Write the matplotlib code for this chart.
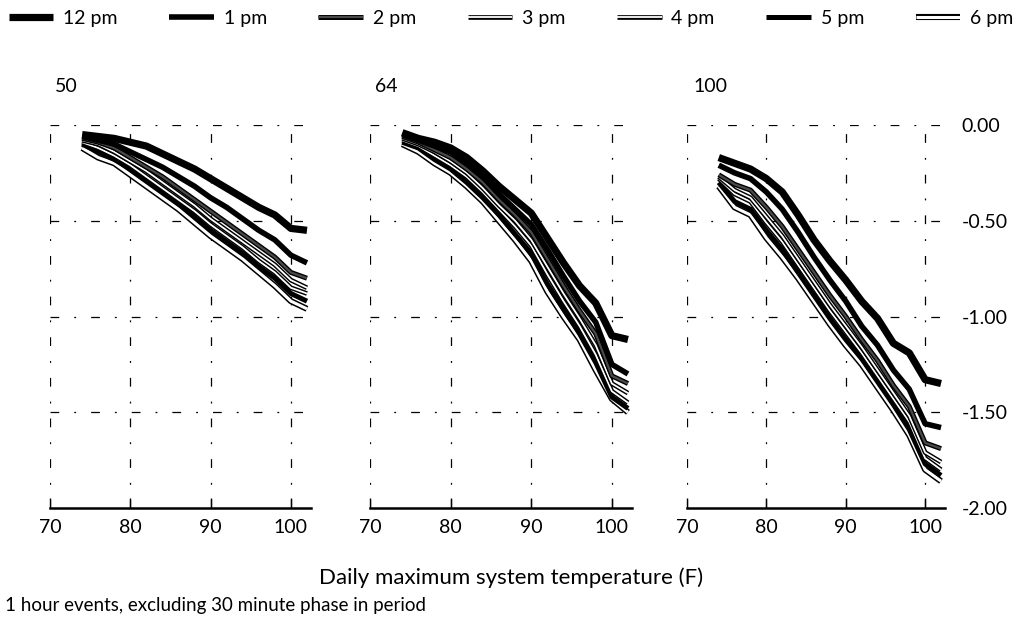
import matplotlib
matplotlib.use("Agg")
import matplotlib.pyplot as plt
import matplotlib.patheffects as pe

plt.rcParams['font.family'] = ['Lato', 'DejaVu Sans']

temps = [74, 76, 78, 80, 82, 84, 86, 88, 90, 92, 94, 96, 98, 100, 102]
hours = ["12 pm", "1 pm", "2 pm", "3 pm", "4 pm", "5 pm", "6 pm"]
panel_titles = ["50", "64", "100"]
x_ticks = [70, 80, 90, 100]
y_ticks = [0.0, -0.5, -1.0, -1.5, -2.0]
y_tick_labels = ["0.00", "-0.50", "-1.00", "-1.50", "-2.00"]

p50 = {
    "12 pm": [-0.05, -0.06, -0.07, -0.09, -0.11, -0.15, -0.19, -0.23, -0.28, -0.33, -0.38, -0.43, -0.47, -0.54, -0.55],
    "1 pm": [-0.06, -0.08, -0.10, -0.14, -0.18, -0.22, -0.27, -0.32, -0.38, -0.43, -0.49, -0.55, -0.60, -0.68, -0.72],
    "2 pm": [-0.07, -0.09, -0.12, -0.17, -0.22, -0.27, -0.33, -0.39, -0.45, -0.51, -0.57, -0.63, -0.69, -0.77, -0.80],
    "3 pm": [-0.08, -0.10, -0.14, -0.19, -0.24, -0.30, -0.36, -0.42, -0.49, -0.55, -0.61, -0.67, -0.73, -0.81, -0.85],
    "4 pm": [-0.09, -0.12, -0.16, -0.21, -0.27, -0.33, -0.39, -0.45, -0.52, -0.58, -0.64, -0.71, -0.77, -0.85, -0.88],
    "5 pm": [-0.10, -0.14, -0.18, -0.23, -0.29, -0.35, -0.41, -0.48, -0.55, -0.61, -0.67, -0.74, -0.80, -0.88, -0.92],
    "6 pm": [-0.12, -0.17, -0.20, -0.26, -0.32, -0.38, -0.44, -0.51, -0.58, -0.64, -0.70, -0.77, -0.84, -0.92, -0.96],
}
p64 = {
    "12 pm": [-0.04, -0.07, -0.09, -0.12, -0.17, -0.24, -0.32, -0.39, -0.46, -0.59, -0.72, -0.84, -0.93, -1.10, -1.12],
    "1 pm": [-0.05, -0.08, -0.11, -0.14, -0.20, -0.27, -0.36, -0.44, -0.52, -0.65, -0.79, -0.92, -1.03, -1.25, -1.30],
    "2 pm": [-0.06, -0.09, -0.13, -0.17, -0.23, -0.30, -0.39, -0.47, -0.56, -0.70, -0.84, -0.97, -1.09, -1.31, -1.35],
    "3 pm": [-0.07, -0.10, -0.14, -0.19, -0.25, -0.33, -0.42, -0.50, -0.60, -0.74, -0.88, -1.01, -1.15, -1.35, -1.40],
    "4 pm": [-0.08, -0.11, -0.16, -0.21, -0.27, -0.35, -0.44, -0.53, -0.63, -0.78, -0.92, -1.05, -1.20, -1.39, -1.45],
    "5 pm": [-0.09, -0.12, -0.18, -0.23, -0.30, -0.38, -0.47, -0.57, -0.67, -0.83, -0.96, -1.09, -1.24, -1.42, -1.48],
    "6 pm": [-0.10, -0.14, -0.20, -0.25, -0.32, -0.40, -0.50, -0.60, -0.71, -0.87, -1.00, -1.12, -1.28, -1.43, -1.50],
}
p100 = {
    "12 pm": [-0.17, -0.20, -0.23, -0.28, -0.35, -0.47, -0.60, -0.71, -0.81, -0.92, -1.01, -1.14, -1.19, -1.33, -1.35],
    "1 pm": [-0.21, -0.25, -0.28, -0.35, -0.44, -0.56, -0.69, -0.81, -0.92, -1.05, -1.15, -1.28, -1.38, -1.56, -1.58],
    "2 pm": [-0.26, -0.31, -0.34, -0.43, -0.53, -0.65, -0.77, -0.89, -1.00, -1.12, -1.23, -1.36, -1.47, -1.66, -1.69],
    "3 pm": [-0.27, -0.34, -0.38, -0.48, -0.58, -0.70, -0.82, -0.94, -1.05, -1.16, -1.28, -1.40, -1.52, -1.71, -1.76],
    "4 pm": [-0.28, -0.36, -0.40, -0.51, -0.61, -0.73, -0.85, -0.97, -1.08, -1.19, -1.31, -1.43, -1.55, -1.74, -1.80],
    "5 pm": [-0.30, -0.40, -0.44, -0.55, -0.65, -0.77, -0.89, -1.01, -1.12, -1.22, -1.34, -1.46, -1.59, -1.77, -1.83],
    "6 pm": [-0.32, -0.43, -0.47, -0.59, -0.69, -0.80, -0.92, -1.04, -1.15, -1.25, -1.37, -1.49, -1.62, -1.80, -1.86],
}
panels = [p50, p64, p100]

# style per hour: (inner color, inner width, outer width or None)
styles = {
    "12 pm": ("black", 5.2, None),
    "1 pm": ("black", 4.0, None),
    "2 pm": ("#4a4a4a", 1.6, 3.6),
    "3 pm": ("white", 1.3, 3.4),
    "4 pm": ("white", 1.3, 3.4),
    "5 pm": ("black", 3.6, None),
    "6 pm": ("white", 2.2, 4.4),
}

fig = plt.figure(figsize=(10.22, 6.30), dpi=100)
lefts = [50 / 1022, 370 / 1022, 687 / 1022]
widths = [261 / 1022, 262 / 1022, 258 / 1022]
bottom = 1 - 508 / 630
height = 383 / 630

grid_ls = (0, (7, 12, 1.5, 12))
handles = []
for i, data in enumerate(panels):
    ax = fig.add_axes([lefts[i], bottom, widths[i], height])
    ax.set_xlim(70, 102.5)
    ax.set_ylim(-2.0, 0.0)
    for xv in x_ticks:
        ax.axvline(xv, color="black", lw=0.9, ls=grid_ls, zorder=1)
    for yv in y_ticks[:-1]:
        ax.axhline(yv, color="black", lw=0.9, ls=grid_ls, zorder=1)
    for k, h in enumerate(hours):
        col, w, ow = styles[h]
        kw = {}
        if ow is not None:
            kw["path_effects"] = [pe.Stroke(linewidth=ow, foreground="black"), pe.Normal()]
        ln, = ax.plot(temps, data[h], color=col, lw=w, solid_capstyle="butt",
                      solid_joinstyle="round", zorder=10 - k, clip_on=False, label=h, **kw)
        if i == 0:
            handles.append(ln)
    for s in ["top", "left", "right"]:
        ax.spines[s].set_visible(False)
    ax.spines["bottom"].set_linewidth(1.8)
    ax.set_xticks(x_ticks)
    ax.tick_params(axis="x", direction="in", length=7, width=1.0, labelsize=14, pad=8)
    if i == 2:
        ax.yaxis.tick_right()
        ax.set_yticks(y_ticks)
        ax.set_yticklabels(y_tick_labels)
        ax.tick_params(axis="y", length=0, labelsize=14, pad=12)
    else:
        ax.set_yticks([])
    ax.text(0.02 if i < 2 else 0.025, 1.1, panel_titles[i], transform=ax.transAxes,
            fontsize=14, ha="left", va="center")

fig.legend(handles=handles, labels=hours, loc="upper center", bbox_to_anchor=(0.5, 1.012),
           ncol=7, frameon=False, fontsize=14, handlelength=2.3, handletextpad=0.5,
           columnspacing=2.65)
fig.text(0.5, 1 - 578 / 630, "Daily maximum system temperature (F)", ha="center", va="center",
         fontsize=16)
fig.text(5 / 1022, 1 - 605 / 630, "1 hour events, excluding 30 minute phase in period",
         ha="left", va="center", fontsize=13.5)

fig.savefig("out.png", dpi=100)
